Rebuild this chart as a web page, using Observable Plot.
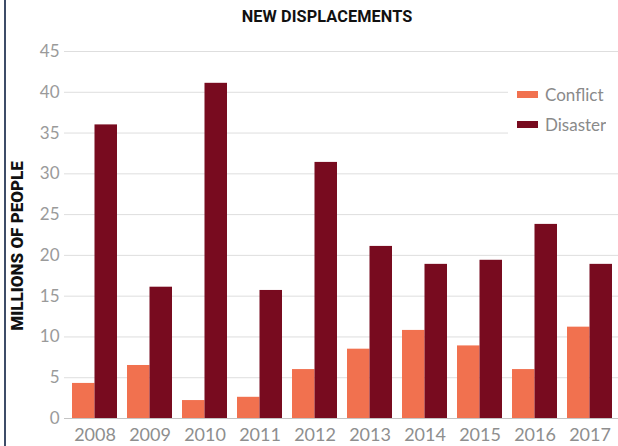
<!DOCTYPE html>
<html>
<head>
<meta charset="utf-8">
<script src="https://cdn.jsdelivr.net/npm/d3@7"></script>
<script src="https://cdn.jsdelivr.net/npm/@observablehq/plot@0.6"></script>
<style>
  body { margin: 0; background: #fff; }
  #wrap { position: relative; width: 618px; height: 446px; overflow: hidden; background: #fff; }
  #border { position: absolute; left: 4px; top: 0; width: 2px; height: 446px; background: #3e4c68; }
  #title { position: absolute; top: 7px; left: 0; width: 654px; text-align: center;
           font: 700 16.3px Roboto, sans-serif; color: #111; letter-spacing: 0.1px; }
  #ylabel { position: absolute; left: 17px; top: 246px; transform: translate(-50%, -50%) rotate(-90deg);
            white-space: nowrap; font: 900 17px Roboto, sans-serif; color: #111; }
  #chart { position: absolute; left: 0; top: 0; }
  #legend { position: absolute; left: 508px; top: 79px; width: 110px; background: #fff; padding-left: 9px; box-sizing: border-box; }
  #legend .lg, #legend .lg-swatches { font: 17px Lato, sans-serif !important; color: #8a8a8a !important; margin: 0 !important; min-height: 0 !important; }
  #legend .lg-swatch { height: 30px !important; display: flex !important; align-items: center !important;
                       font: 17px Lato, sans-serif !important; color: #8a8a8a !important; padding: 0 !important; margin: 0 !important; }
  #legend .lg-swatch svg { margin-right: 7px !important; }
</style>
</head>
<body>
<div id="wrap">
  <div id="border"></div>
  <div id="chart"></div>
  <div id="title">NEW DISPLACEMENTS</div>
  <div id="ylabel">MILLIONS OF PEOPLE</div>
  <div id="legend"></div>
</div>
<script>
const years = ["2008", "2009", "2010", "2011", "2012", "2013", "2014", "2015", "2016", "2017"];
const conflict = [4.3, 6.5, 2.2, 2.6, 6.0, 8.5, 10.8, 8.9, 6.0, 11.2];
const disaster = [36.0, 16.1, 41.1, 15.7, 31.4, 21.1, 18.9, 19.4, 23.8, 18.9];
const series = ["Conflict", "Disaster"];
const colors = ["#f1714f", "#780b1f"];
const yTicks = [0, 5, 10, 15, 20, 25, 30, 35, 40, 45];

const data = years.map((year, i) => ({year, conflict: conflict[i], disaster: disaster[i]}));

const W = 618, H = 446, mL = 64, mR = 0;
const pInner = 0.185, pOuter = 0.11;
const step = (W - mL - mR) / (years.length - pInner + 2 * pOuter);
const half = step * (1 - pInner) / 2;

const chart = Plot.plot({
  width: W,
  height: H,
  marginTop: 51,
  marginBottom: 28,
  marginLeft: mL,
  marginRight: mR,
  style: {fontFamily: "Lato, sans-serif", color: "#8e8e8e", background: "transparent"},
  x: {type: "band", domain: years, paddingInner: pInner, paddingOuter: pOuter, align: 0.58},
  y: {domain: [0, 45]},
  marks: [
    Plot.gridY(yTicks, {stroke: "#dedede", strokeOpacity: 1}),
    Plot.barY(data, {x: "year", y: "conflict", fill: colors[0], insetRight: half}),
    Plot.barY(data, {x: "year", y: "disaster", fill: colors[1], insetLeft: half}),
    Plot.ruleY([0], {stroke: "#c4c4c4"}),
    Plot.axisY(yTicks, {tickSize: 0, tickPadding: 5, label: null, fontSize: 17, fill: "#9a9a9a"}),
    Plot.axisX({tickSize: 0, tickPadding: 10, label: null, fontSize: 18, fill: "#8e8e8e"})
  ]
});
document.getElementById("chart").appendChild(chart);

const legend = Plot.legend({
  color: {domain: series, range: colors},
  legend: "swatches",
  columns: 1,
  swatchWidth: 21,
  swatchHeight: 7,
  className: "lg",
  style: {fontSize: "17px", fontFamily: "Lato, sans-serif", color: "#8a8a8a"}
});
document.getElementById("legend").appendChild(legend);
</script>
</body>
</html>
